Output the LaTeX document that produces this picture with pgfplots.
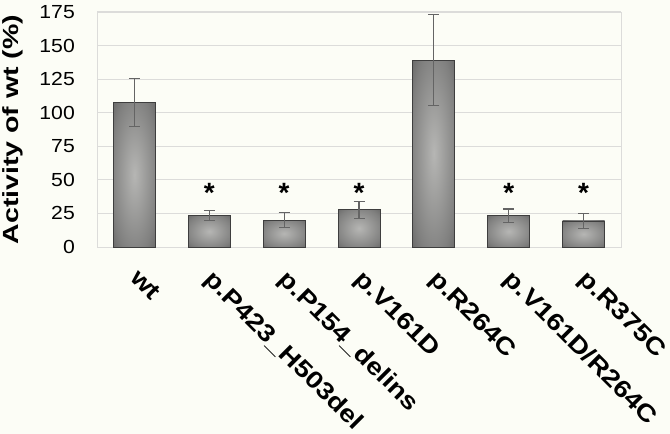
\documentclass[border=0pt]{standalone}
\usepackage{pgfplots}
\pgfplotsset{compat=1.18}
\usepackage{fontspec}
\setmainfont{Liberation Sans}
\definecolor{bg}{RGB}{252,253,246}
\definecolor{gridc}{RGB}{220,220,218}
\definecolor{errc}{RGB}{100,100,100}
\definecolor{barmid}{RGB}{182,182,180}
\definecolor{barq}{RGB}{128,128,127}
\definecolor{barside}{RGB}{70,70,70}
\definecolor{baredge}{RGB}{62,62,62}
\pgfdeclareradialshading{barshade}{\pgfpointorigin}{color(0bp)=(barmid); color(28bp)=(barq); color(50bp)=(barside)}
\newcommand{\xl}[1]{\scalebox{1.17}[1]{#1}}
\pgfplotsset{
  mybar/.style={ybar, bar width=42bp, bar shift=0pt, draw=baredge, line width=0.8bp,
    shade, shading=barshade,
    error bars/.cd, y dir=both, y explicit,
    error bar style={draw=errc, line width=1.2bp},
    error mark options={rotate=90, mark size=5.5bp, draw=errc, line width=1.2bp}},
}
\begin{document}
\begin{tikzpicture}
\fill[bg] (0,0) rectangle (670bp,434bp);
\path[use as bounding box] (0,0) rectangle (670bp,434bp);
\begin{axis}[
  at={(97bp,187bp)}, anchor=south west,
  scale only axis, width=524bp, height=235bp,
  xmin=-0.5, xmax=6.5, ymin=0, ymax=175,
  ytick={0,25,...,175},
  xtick={0,...,6},
  xticklabels={\xl{wt}, \xl{p.P423\_H503del}, \xl{p.P154\_delins}, \xl{p.V161D}, \xl{p.R264C}, \xl{p.V161D/R264C}, \xl{p.R375C}},
  tick style={draw=none},
  axis line style={draw=gridc, line width=0.8bp},
  ymajorgrids, grid style={draw=gridc, line width=1bp},
  /pgf/number format/assume math mode=true,
  yticklabel={\scalebox{1.12}[1]{\pgfmathprintnumber{\tick}}},
  yticklabel style={font=\fontsize{19}{19}\selectfont, anchor=east, inner sep=0pt, xshift=-22bp},
  xticklabel style={font=\bfseries\fontsize{24}{24}\selectfont, xshift=6bp, yshift=-21bp, rotate=-45, anchor=north west, inner sep=0pt},
  ylabel={\scalebox{1.3}[1]{Activity of wt (\%)}},
  ylabel style={font=\bfseries\fontsize{22}{22}\selectfont, at={(axis description cs:-0.141,0.5)}, anchor=south, inner sep=0pt},
  clip=false,
]
\addplot[mybar] coordinates {(0,107.5) +- (0,18)};
\addplot[mybar] coordinates {(1,23.3) +- (0,3.6)};
\addplot[mybar] coordinates {(2,20.1) +- (0,5.3)};
\addplot[mybar] coordinates {(3,27.8) +- (0,6.3)};
\addplot[mybar] coordinates {(4,139.2) +- (0,34)};
\addplot[mybar] coordinates {(5,23.3) +- (0,5)};
\addplot[mybar] coordinates {(6,19.4) +- (0,5.4)};
\addplot[draw=none, mark=none, nodes near coords={*},
  every node near coord/.append style={font=\bfseries\fontsize{28}{28}\selectfont, inner sep=0pt, anchor=base}]
coordinates {(1,33) (2,33) (3,33) (5,33) (6,33)};
\end{axis}
\end{tikzpicture}
\end{document}
